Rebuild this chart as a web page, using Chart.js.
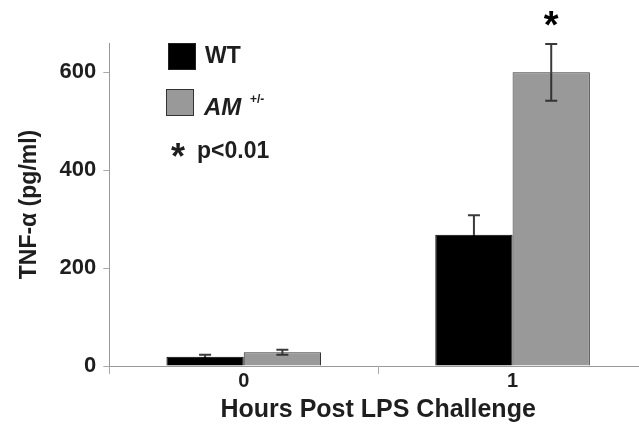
<!DOCTYPE html>
<html>
<head>
<meta charset="utf-8">
<script src="https://cdn.jsdelivr.net/npm/chart.js@4.4.0/dist/chart.umd.min.js"></script>
<style>
  html, body { margin: 0; padding: 0; background: #fff; overflow: hidden; }
  #wrap { width: 648px; height: 426px; }
</style>
</head>
<body>
<div id="wrap"><canvas id="tnf"></canvas></div>
<script>
//categories (hours after LPS)
const hours = ["0", "1"];
//mean TNF-alpha, pg/ml
const wtVals = [19, 268];
const amVals = [28, 600];
//error (SEM)
const wtErr = [4, 40];
const amErr = [5, 58];
//significance marks per category for AM
const amSig = [false, true];
//y ticks
const yTicks = [0, 200, 400, 600];

const ink = "#1e1e1e";
const fam = "'Liberation Sans', Arial, sans-serif";

//error bars drawn from each bar element
const errPlugin = {
  id: "errBars",
  afterDatasetsDraw(chart) {
    const c = chart.ctx;
    const ys = chart.scales.y;
    chart.data.datasets.forEach((ds, i) => {
      const meta = chart.getDatasetMeta(i);
      meta.data.forEach((bar, j) => {
        const v = ds.data[j], e = ds.err[j];
        const top = ys.getPixelForValue(v + e);
        const bot = ys.getPixelForValue(v - e);
        const mid = ys.getPixelForValue(v);
        c.save();
        c.lineWidth = 2;
        //upper whisker
        c.strokeStyle = "#3a3a3a";
        c.beginPath();
        c.moveTo(bar.x, top); c.lineTo(bar.x, mid);
        c.moveTo(bar.x - 6, top); c.lineTo(bar.x + 6, top);
        c.stroke();
        //lower whisker (hidden inside black bars)
        c.strokeStyle = ds.borderColor;
        c.beginPath();
        c.moveTo(bar.x, mid); c.lineTo(bar.x, bot);
        c.moveTo(bar.x - 6, bot); c.lineTo(bar.x + 6, bot);
        c.stroke();
        //asterisk above significant bars
        if (ds.sig && ds.sig[j]) {
          c.fillStyle = "#000";
          c.font = "bold 38px " + fam;
          c.textAlign = "center";
          c.textBaseline = "middle";
          c.fillText("*", bar.x, top - 16);
        }
        c.restore();
      });
    });
  }
};

//legend box in top-left of plot
const legPlugin = {
  id: "legendBox",
  afterDraw(chart) {
    const c = chart.ctx;
    const ds = chart.data.datasets;
    c.save();
    //WT
    c.fillStyle = ds[0].backgroundColor;
    c.fillRect(168, 43, 28, 27);
    c.strokeStyle = "#222";
    c.lineWidth = 1;
    c.strokeRect(168.5, 43.5, 27, 26);
    c.fillStyle = ink;
    c.textBaseline = "middle";
    c.font = "bold 23px " + fam;
    c.fillText("WT", 205, 57);
    //AM +/-
    c.fillStyle = ds[1].backgroundColor;
    c.fillRect(166, 89, 28, 27);
    c.strokeStyle = "#333";
    c.strokeRect(166.5, 89.5, 27, 26);
    c.fillStyle = ink;
    c.font = "italic bold 24px " + fam;
    c.fillText("AM", 204, 108);
    c.font = "bold 12px " + fam;
    c.fillText("+/-", 250, 100);
    //significance note
    c.font = "bold 36px " + fam;
    c.fillText("*", 171, 159);
    c.font = "bold 23px " + fam;
    c.fillText("p<0.01", 197, 152);
    c.restore();
  }
};

new Chart(document.getElementById("tnf"), {
  type: "bar",
  data: {
    labels: hours,
    datasets: [
      { label: "WT", data: wtVals, err: wtErr, backgroundColor: "#000", borderColor: "#000", borderWidth: 1 },
      { label: "AM +/-", data: amVals, err: amErr, sig: amSig, backgroundColor: "#999", borderColor: "#333", borderWidth: 1 }
    ]
  },
  options: {
    responsive: true,
    maintainAspectRatio: false,
    animation: false,
    layout: { padding: { top: 43, right: 1, left: 16, bottom: 0 } },
    datasets: { bar: { categoryPercentage: 0.575, barPercentage: 1 } },
    plugins: { legend: { display: false }, tooltip: { enabled: false } },
    scales: {
      x: {
        grid: { drawOnChartArea: false, offset: true, tickLength: 8, color: "#aaa" },
        border: { color: "#999" },
        ticks: { color: ink, font: { family: fam, size: 20, weight: "bold" }, padding: -5 },
        title: { display: true, text: "Hours Post LPS Challenge", color: ink, font: { family: fam, size: 25, weight: "bold" }, padding: { top: 7, bottom: 1 } }
      },
      y: {
        min: 0,
        max: 660,
        afterBuildTicks: ax => { ax.ticks = yTicks.map(v => ({ value: v })); },
        grid: { drawOnChartArea: false, tickLength: 6, color: "#aaa" },
        border: { color: "#999" },
        ticks: { color: ink, font: { family: fam, size: 22, weight: "bold" }, padding: 7 },
        title: { display: true, text: "TNF-α (pg/ml)", color: ink, font: { family: fam, size: 23, weight: "bold" }, padding: { top: 0, bottom: 9 } }
      }
    }
  },
  plugins: [errPlugin, legPlugin]
});
</script>
</body>
</html>
